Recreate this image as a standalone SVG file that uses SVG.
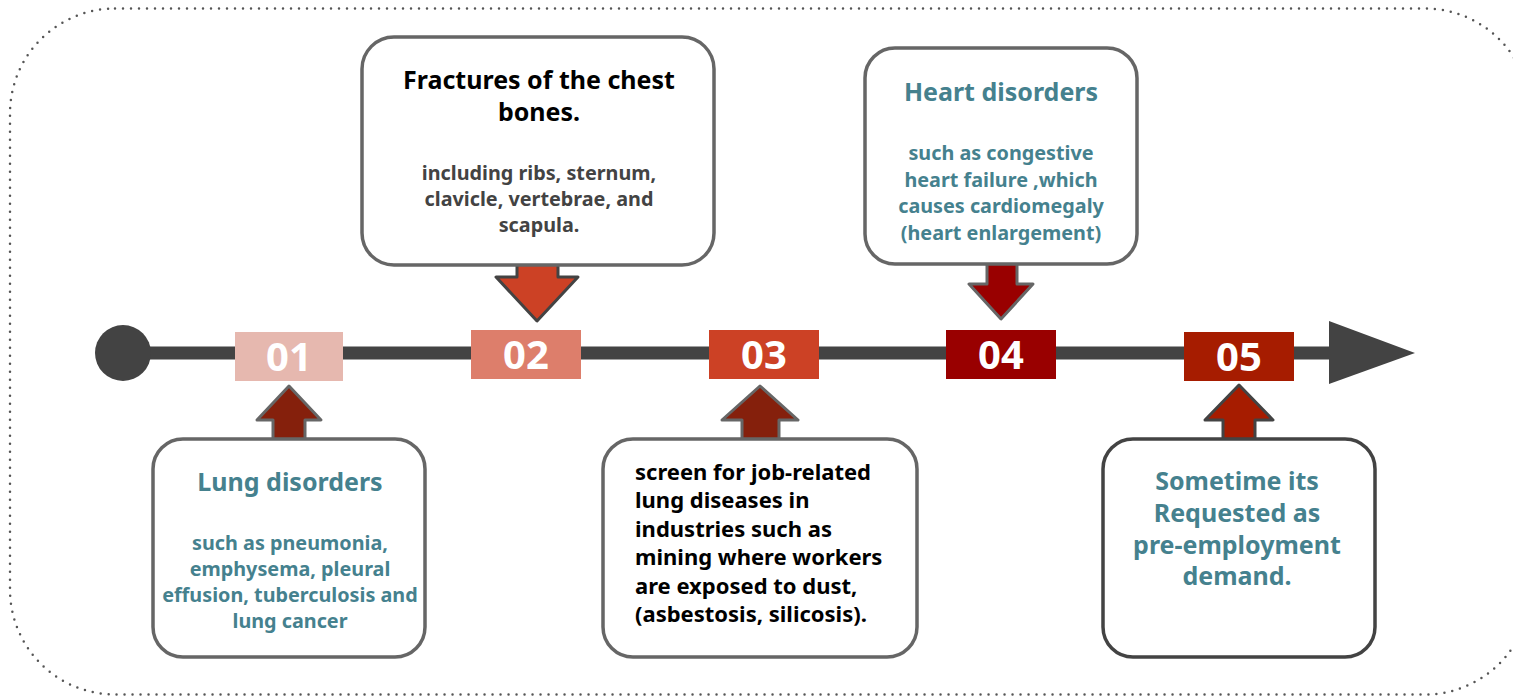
<svg xmlns="http://www.w3.org/2000/svg" width="1513" height="696" viewBox="0 0 1513 696">
<style>
.card{fill:#fff;stroke:#666;stroke-width:3.5}
.card.dk{stroke:#434343}
.num{font-family:"Noto Sans","Open Sans",sans-serif;font-weight:700;font-size:40px;fill:#fff;text-anchor:middle}
.t{font-family:"Noto Sans","Open Sans",sans-serif;font-weight:700;text-anchor:middle}
.teal{fill:#45818e}
.arr{stroke-width:3;stroke-linejoin:round}
</style>
<rect x="10" y="8.5" width="1520" height="686" rx="105" fill="none" stroke="#555" stroke-width="2.5" stroke-dasharray="0 8" stroke-linecap="round"/>
<g id="connectors">
<line x1="123" y1="353" x2="1335" y2="353" stroke="#434343" stroke-width="13"/>
<circle cx="123" cy="353" r="28" fill="#434343"/>
<polygon points="1329,321 1415,353 1329,384" fill="#434343"/>
<polygon class="arr" points="289,386 321,420 305,420 305,442 273,442 273,420 257,420" fill="#85200c" stroke="#666"/>
<polygon class="arr" points="517,262 558,262 558,277 578,277 537,321 496,277 517,277" fill="#cc4125" stroke="#434343"/>
<polygon class="arr" points="760,386 798,420 779,420 779,442 742,442 742,420 722,420" fill="#85200c" stroke="#666"/>
<polygon class="arr" points="987,262 1017,262 1017,284 1033,284 1001,319 969,284 987,284" fill="#990000" stroke="#666"/>
<polygon class="arr" points="1239,385 1273,420 1255,420 1255,442 1223,442 1223,420 1205,420" fill="#a61c00" stroke="#434343"/>
</g>
<g id="m01"><rect x="235" y="332" width="108" height="49" fill="#e6b8af"/><text class="num" x="289" y="371">01</text></g>
<g id="m02"><rect x="471" y="330" width="110" height="49" fill="#dd7e6b"/><text class="num" x="526" y="369">02</text></g>
<g id="m03"><rect x="709" y="330" width="110" height="49" fill="#cc4125"/><text class="num" x="764" y="369">03</text></g>
<g id="m04"><rect x="946" y="330" width="110" height="49" fill="#990000"/><text class="num" x="1001" y="369">04</text></g>
<g id="m05"><rect x="1184" y="332" width="110" height="49" fill="#a61c00"/><text class="num" x="1239" y="371">05</text></g>
<g id="card1">
<rect class="card" x="153" y="439" width="272" height="218" rx="30"/>
<text class="t teal" x="290" y="491" font-size="25">Lung disorders</text>
<text class="t teal" font-size="19.8"><tspan x="290" y="550">such as pneumonia,</tspan><tspan x="290" y="576">emphysema, pleural</tspan><tspan x="290" y="602">effusion, tuberculosis and</tspan><tspan x="290" y="628">lung cancer</tspan></text>
</g>
<g id="card2">
<rect class="card" x="362" y="37" width="352" height="228" rx="32"/>
<text class="t" fill="#000" font-size="25"><tspan x="539" y="89">Fractures of the chest</tspan><tspan x="539" y="121">bones.</tspan></text>
<text class="t" fill="#434343" font-size="19.8"><tspan x="539" y="180">including ribs, sternum,</tspan><tspan x="539" y="206">clavicle, vertebrae, and</tspan><tspan x="539" y="232">scapula.</tspan></text>
</g>
<g id="card3">
<rect class="card" x="603" y="439" width="314" height="218" rx="30"/>
<text font-family="'Noto Sans','Open Sans',sans-serif" font-weight="700" font-size="22" fill="#000"><tspan x="635" y="480">screen for job-related</tspan><tspan x="635" y="508">lung diseases in</tspan><tspan x="635" y="537">industries such as</tspan><tspan x="635" y="565">mining where workers</tspan><tspan x="635" y="594">are exposed to dust,</tspan><tspan x="635" y="622">(asbestosis, silicosis).</tspan></text>
</g>
<g id="card4">
<rect class="card" x="865" y="48" width="272" height="216" rx="30"/>
<text class="t teal" x="1001" y="101" font-size="25">Heart disorders</text>
<text class="t teal" font-size="19.8"><tspan x="1001" y="160">such as congestive</tspan><tspan x="1001" y="187">heart failure ,which</tspan><tspan x="1001" y="213">causes cardiomegaly</tspan><tspan x="1001" y="240">(heart enlargement)</tspan></text>
</g>
<g id="card5">
<rect class="card dk" x="1103" y="439" width="272" height="218" rx="30"/>
<text class="t teal" font-size="25"><tspan x="1237" y="490">Sometime its</tspan><tspan x="1237" y="522">Requested as</tspan><tspan x="1237" y="554">pre-employment</tspan><tspan x="1237" y="585">demand.</tspan></text>
</g>
</svg>
